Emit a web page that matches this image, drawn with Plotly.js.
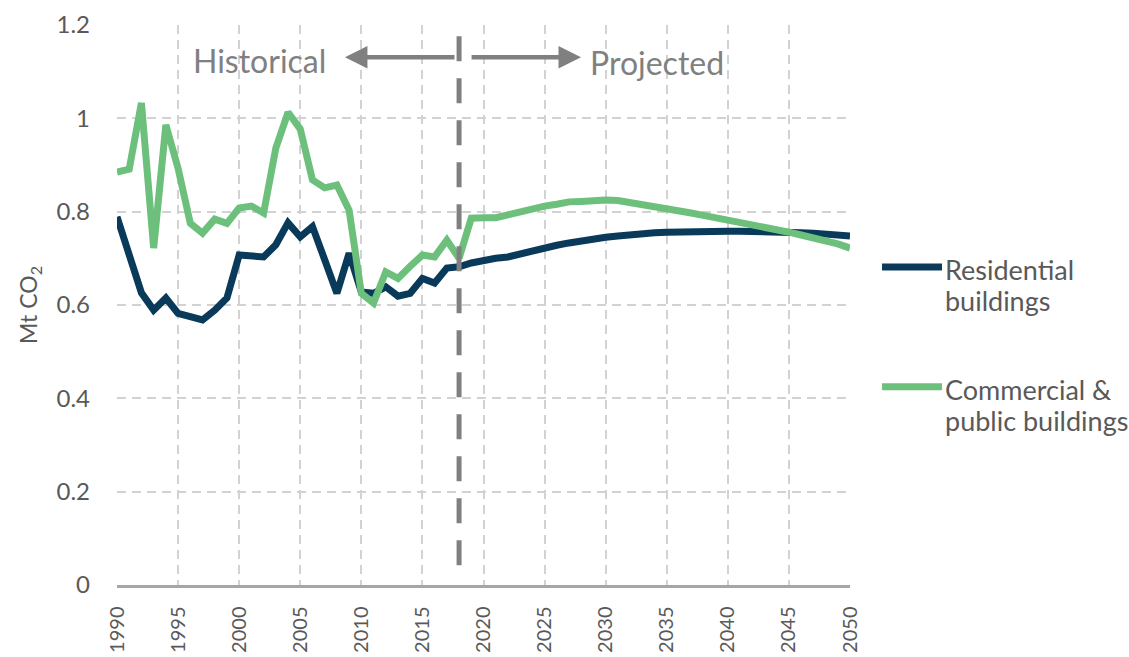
<!DOCTYPE html>
<html>
<head>
<meta charset="utf-8">
<script src="https://cdn.plot.ly/plotly-3.0.1.min.js"></script>
<style>html,body{margin:0;padding:0;background:#fff;}#chart{width:1129px;height:657px;}</style>
</head>
<body>
<div id="chart"></div>
<script>
const years = [];
for (let y = 1990; y <= 2050; y++) years.push(y);

const residential = [
  0.789, 0.710, 0.626, 0.589, 0.615, 0.582, 0.574, 0.568, 0.589, 0.615,
  0.707, 0.705, 0.703, 0.729, 0.776, 0.746, 0.768, 0.697, 0.625, 0.711,
  0.628, 0.625, 0.639, 0.619, 0.625, 0.657, 0.647, 0.679, 0.682, 0.690,
  0.696, 0.700, 0.703, 0.710, 0.716, 0.722, 0.728, 0.733, 0.738, 0.742,
  0.745, 0.748, 0.751, 0.753, 0.755, 0.756, 0.757, 0.757, 0.758, 0.758,
  0.758, 0.758, 0.758, 0.757, 0.757, 0.756, 0.755, 0.754, 0.752, 0.750,
  0.748
];

const commercial = [
  0.885, 0.891, 1.033, 0.722, 0.986, 0.893, 0.775, 0.754, 0.784, 0.775,
  0.808, 0.812, 0.797, 0.936, 1.013, 0.977, 0.868, 0.851, 0.857, 0.803,
  0.625, 0.604, 0.671, 0.657, 0.683, 0.707, 0.703, 0.739, 0.700, 0.786,
  0.787, 0.787, 0.793, 0.800, 0.806, 0.812, 0.816, 0.821, 0.822, 0.824,
  0.825, 0.824, 0.820, 0.816, 0.811, 0.807, 0.802, 0.797, 0.792, 0.787,
  0.783, 0.779, 0.774, 0.768, 0.762, 0.756, 0.750, 0.744, 0.737, 0.731,
  0.722
];

const seriesNames = ["Residential", "Commercial & public buildings"];
const legendLines = [["Residential", "buildings"], ["Commercial &", "public buildings"]];
const xTicks = [1990, 1995, 2000, 2005, 2010, 2015, 2020, 2025, 2030, 2035, 2040, 2045, 2050];
const yTicks = [0, 0.2, 0.4, 0.6, 0.8, 1, 1.2];
const yTickText = ["0", "0.2", "0.4", "0.6", "0.8", "1", "1.2"];
const splitYear = 2018;

const navy = "#0a3a5a";
const green = "#6cc07c";
const FONT = "Lato, 'Open Sans', sans-serif";
const tickGrey = "#595959";
const annGrey = "#808080";
const gridGrey = "#d2d2d2";

const traces = [
  {x: years, y: residential, name: seriesNames[0], type: "scatter", mode: "lines",
   line: {color: navy, width: 7}},
  {x: years, y: commercial, name: seriesNames[1], type: "scatter", mode: "lines",
   line: {color: green, width: 7}}
];

const legX0 = 1.0437, legX1 = 1.1255, legTextX = 1.127;
const legY = [0.5679, 0.354];
const lineGap = 31 / 560;

const shapes = [
  {type: "line", xref: "x", yref: "y", x0: splitYear, x1: splitYear, y0: 1.176, y1: 0.04,
   line: {color: annGrey, width: 5, dash: "25px,17px"}, layer: "above"},
  {type: "line", xref: "paper", yref: "paper", x0: legX0, x1: legX1, y0: legY[0], y1: legY[0],
   line: {color: navy, width: 7}},
  {type: "line", xref: "paper", yref: "paper", x0: legX0, x1: legX1, y0: legY[1], y1: legY[1],
   line: {color: green, width: 7}}
];

const annotations = [
  {xref: "x", yref: "y", x: 2001.7, y: 1.125, text: "Historical", showarrow: false,
   font: {family: FONT, size: 32, color: annGrey}, xanchor: "center", yanchor: "middle"},
  {xref: "x", yref: "y", x: 2034.2, y: 1.12, text: "Projected", showarrow: false,
   font: {family: FONT, size: 32, color: annGrey}, xanchor: "center", yanchor: "middle"},
  {xref: "x", yref: "y", x: 2008.66, y: 1.131, ax: 2017.75, ay: 1.131, axref: "x", ayref: "y",
   text: "", showarrow: true, arrowhead: 2, arrowsize: 1.0, arrowwidth: 4.5, arrowcolor: annGrey, standoff: 0},
  {xref: "x", yref: "y", x: 2027.98, y: 1.131, ax: 2018.9, ay: 1.131, axref: "x", ayref: "y",
   text: "", showarrow: true, arrowhead: 2, arrowsize: 1.0, arrowwidth: 4.5, arrowcolor: annGrey, standoff: 0}
];

legendLines.forEach((lines, i) => {
  lines.forEach((t, j) => {
    annotations.push({
      xref: "paper", yref: "paper", x: legTextX, y: legY[i] - 0.004 - j * lineGap,
      text: t, showarrow: false, xanchor: "left", yanchor: "middle",
      font: {family: FONT, size: 27, color: tickGrey}
    });
  });
});

const layout = {
  width: 1129, height: 657,
  margin: {l: 117, r: 279, t: 25, b: 72},
  paper_bgcolor: "#ffffff", plot_bgcolor: "#ffffff",
  showlegend: false,
  font: {family: FONT, color: tickGrey},
  xaxis: {
    range: [1990, 2050], tickvals: xTicks, tickangle: -90,
    tickfont: {family: FONT, size: 20, color: tickGrey},
    showgrid: true, gridcolor: gridGrey, gridwidth: 2, griddash: "9px,6px",
    showline: true, linecolor: "#a6a6a6", linewidth: 2.5,
    zeroline: false, ticks: "", ticklabelstandoff: 11, fixedrange: true
  },
  yaxis: {
    range: [0, 1.2], tickvals: yTicks, ticktext: yTickText,
    tickfont: {family: FONT, size: 24, color: tickGrey},
    showgrid: true, gridcolor: gridGrey, gridwidth: 2, griddash: "9px,6px",
    showline: false, zeroline: false, ticks: "", ticklabelstandoff: 26,
    title: {text: "Mt CO<sub>2</sub>", font: {family: FONT, size: 23, color: tickGrey}, standoff: 12},
    automargin: false, fixedrange: true
  },
  shapes: shapes,
  annotations: annotations
};

Plotly.newPlot("chart", traces, layout, {displayModeBar: false, staticPlot: true});
</script>
</body>
</html>
